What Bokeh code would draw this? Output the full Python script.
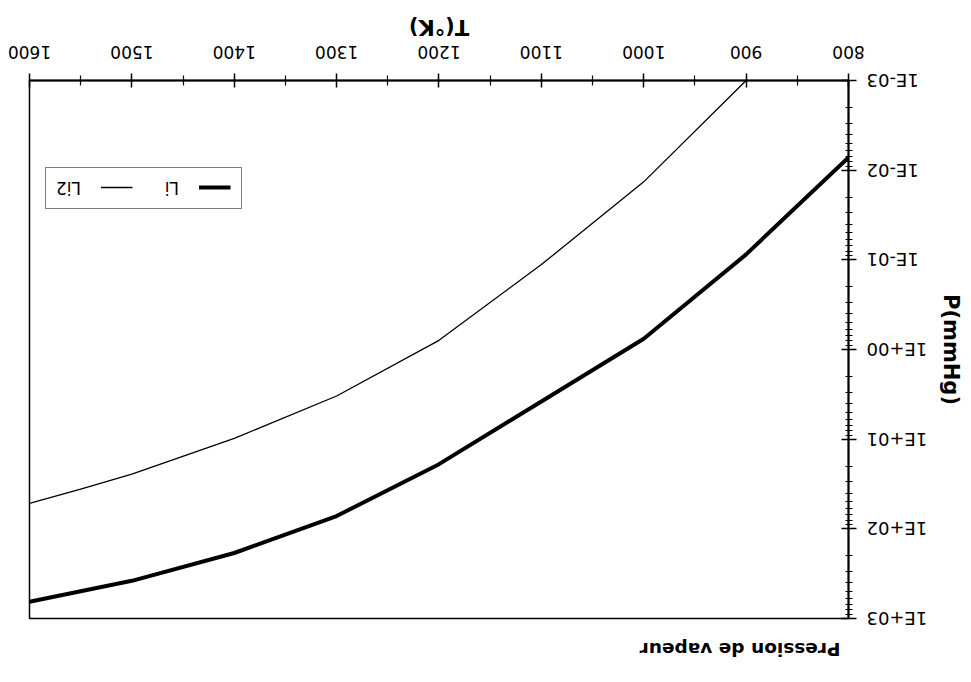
from bokeh.plotting import figure
from bokeh.models import Range1d, FixedTicker, CustomJSTickFormatter, Legend, LegendItem
from bokeh.embed import file_html
from bokeh.resources import INLINE

# ---- data ----
temperature_li = [800, 900, 1000, 1100, 1200, 1300, 1400, 1500, 1600]
pressure_li = [0.0072, 0.087, 0.76, 3.8, 19, 72, 186, 380, 650]
temperature_li2 = [900, 1000, 1100, 1200, 1300, 1400, 1500, 1550, 1600]
pressure_li2 = [0.001, 0.0135, 0.113, 0.79, 3.3, 9.8, 24.5, 36, 52]
x_major_ticks = [800, 900, 1000, 1100, 1200, 1300, 1400, 1500, 1600]
x_minor_ticks = [850, 950, 1050, 1150, 1250, 1350, 1450, 1550]
y_major_ticks = [1e-3, 1e-2, 1e-1, 1e0, 1e1, 1e2, 1e3]
y_minor_ticks = [k * 10.0 ** e for e in range(-3, 3) for k in range(2, 10)]
series_names = ["Li", "Li2"]
title_text = "Pression de vapeur"
x_label = "T(°K)"
y_label = "P(mmHg)"

# ---- layout ----
W, H = 970, 678
FONT = "DejaVu Sans"

p = figure(width=W, height=H, output_backend="svg", toolbar_location=None,
           x_range=Range1d(800, 1600), y_range=Range1d(1e-3, 1e3),
           y_axis_type="log",
           min_border_left=121, min_border_right=30,
           min_border_top=59, min_border_bottom=81)
# the reference page is printed upside down: turn the whole figure by 180 degrees
p.styles = {"transform": "rotate(180deg)", "transform-origin": "50% 50%"}

p.xgrid.visible = False
p.ygrid.visible = False
p.outline_line_color = "black"
p.outline_line_width = 1.5
p.background_fill_color = "white"
p.border_fill_color = "white"

p.title.text = title_text
p.title.align = "left"
p.title.vertical_align = "top"
p.title.offset = 8
p.title.standoff = 36
p.title.text_font = FONT
p.title.text_font_size = "18.5px"
p.title.text_font_style = "bold"
p.title.text_color = "black"

xa = p.below[0]
ya = p.left[0]

xa.ticker = FixedTicker(ticks=x_major_ticks, minor_ticks=x_minor_ticks)
xa.axis_label = x_label
xa.axis_label_standoff = 4
xa.major_tick_in = 7
xa.major_tick_out = 7
xa.minor_tick_in = 5
xa.minor_tick_out = 5
xa.major_label_standoff = 15

ya.ticker = FixedTicker(ticks=y_major_ticks, minor_ticks=y_minor_ticks)
ya.formatter = CustomJSTickFormatter(code="""
const e = Math.round(Math.log10(tick));
const a = Math.abs(e);
return '1E' + (e < 0 ? '-' : '+') + (a < 10 ? '0' : '') + a;
""")
ya.axis_label = y_label
ya.axis_label_standoff = 9
ya.major_tick_in = 7
ya.major_tick_out = 8
ya.minor_tick_in = 3
ya.minor_tick_out = 4
ya.major_label_standoff = 10

for ax in (xa, ya):
    ax.axis_line_color = "black"
    ax.axis_line_width = 2
    ax.major_tick_line_color = "black"
    ax.minor_tick_line_color = "black"
    ax.major_tick_line_width = 1.5
    ax.minor_tick_line_width = 1.2
    ax.major_label_text_font = FONT
    ax.major_label_text_color = "black"
    ax.axis_label_text_font = FONT
    ax.axis_label_text_font_size = "21px"
    ax.axis_label_text_font_style = "bold"
    ax.axis_label_text_color = "black"
xa.major_label_text_font_size = "17px"
ya.major_label_text_font_size = "18px"

# ---- curves ----
r_li = p.line(temperature_li, pressure_li, line_color="black", line_width=4, line_join="round")
r_li2 = p.line(temperature_li2, pressure_li2, line_color="black", line_width=1.3, line_join="round")

legend = Legend(items=[LegendItem(label=series_names[0], renderers=[r_li]),
                       LegendItem(label=series_names[1], renderers=[r_li2])],
                orientation="horizontal", location=(607, 86),
                glyph_width=32, glyph_height=20, label_standoff=20, label_width=20,
                spacing=26, padding=10, margin=0,
                label_text_font=FONT, label_text_font_size="17px", label_text_color="black",
                border_line_color="black", border_line_width=1.5,
                background_fill_color="white", background_fill_alpha=1)
p.add_layout(legend, "center")

open("out.html", "w").write(file_html(p, INLINE))
